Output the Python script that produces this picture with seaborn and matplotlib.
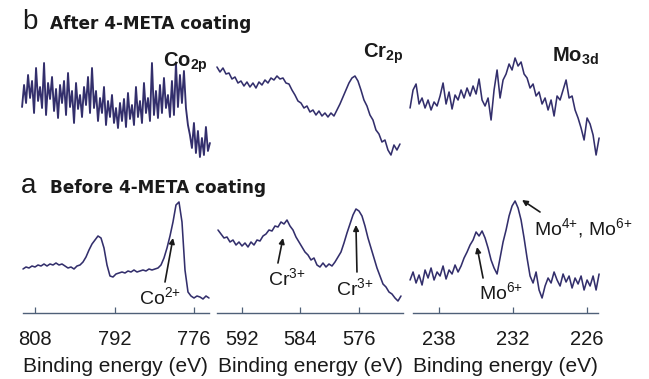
import numpy as np
import pandas as pd
import matplotlib
matplotlib.use("Agg")
import matplotlib.pyplot as plt
import seaborn as sns

# ---------------- data (intensity in a.u., stacked with offset) ----------------
co_energy_range = (810.6, 772.8)
co_after = [206, 228, 210, 238, 215, 232, 200, 245, 212, 226,
            205, 250, 198, 230, 214, 236, 202, 224, 195, 228,
            210, 232, 198, 240, 206, 222, 190, 230, 204, 218,
            196, 226, 208, 236, 200, 245, 205, 222, 192, 215,
            200, 226, 188, 212, 196, 218, 190, 205, 185, 210,
            192, 214, 186, 220, 194, 208, 188, 226, 196, 212,
            190, 230, 200, 215, 192, 250, 198, 222, 195, 228,
            200, 235, 205, 218, 196, 232, 198, 250, 206, 238,
            210, 242, 205, 188, 178, 165, 190, 160, 182, 156,
            175, 158, 186, 162, 170]
co_before_range = (810.41, 772.99)
co_before = [44, 46, 45, 47, 46, 48, 47, 49, 47, 49,
             48, 50, 48, 49, 47, 45, 46, 44, 47, 48,
             51, 56, 63, 69, 73, 77, 75, 65, 48, 37,
             36, 39, 40, 41, 40, 42, 41, 43, 41, 42,
             43, 42, 44, 43, 44, 45, 48, 55, 65, 77,
             91, 108, 111, 91, 43, 21, 17, 15, 17, 16,
             14, 17, 15]

cr_after_range = (595.42, 570.39)
cr_after = [246, 241, 245, 239, 240, 234, 236, 230, 232, 227,
            231, 226, 230, 225, 231, 228, 233, 230, 235, 233,
            237, 234, 235, 230, 229, 223, 218, 212, 210, 205,
            207, 201, 203, 198, 202, 197, 200, 196, 200, 197,
            203, 209, 216, 223, 230, 235, 237, 232, 223, 213,
            207, 198, 193, 183, 179, 171, 173, 163, 158, 168,
            163, 169]
cr_before_range = (595.28, 570.25)
cr_before = [83, 79, 75, 76, 71, 73, 68, 71, 67, 70,
             66, 71, 68, 73, 72, 77, 79, 83, 82, 87,
             86, 91, 89, 93, 87, 83, 76, 71, 66, 61,
             58, 53, 55, 48, 46, 50, 46, 49, 47, 51,
             56, 61, 70, 80, 89, 98, 104, 102, 97, 87,
             75, 65, 55, 45, 37, 29, 26, 21, 19, 15,
             12, 17]

mo_range = (240.35, 225.02)
mo_after = [205, 223, 229, 209, 215, 205, 213, 203, 211, 207,
            217, 230, 209, 221, 204, 218, 213, 223, 215, 225,
            217, 227, 219, 234, 213, 207, 215, 193, 223, 243,
            215, 233, 239, 249, 243, 255, 247, 251, 239, 235,
            225, 229, 217, 221, 209, 215, 203, 213, 197, 217,
            213, 223, 233, 215, 217, 203, 195, 185, 173, 195,
            189, 178, 158, 175]
mo_before = [33, 41, 30, 38, 28, 43, 35, 45, 33, 41,
             37, 47, 34, 43, 39, 48, 41, 47, 55, 61,
             68, 73, 81, 77, 82, 75, 65, 53, 45, 39,
             55, 71, 83, 97, 107, 112, 105, 93, 75, 55,
             37, 30, 41, 23, 15, 27, 35, 30, 41, 33,
             27, 39, 31, 37, 25, 35, 29, 37, 23, 33,
             27, 37, 23, 39]

panel_ticks = [[808, 792, 776], [592, 584, 576], [238, 232, 226]]
panel_xlims = [(812.02, 771.78), (596.10, 569.29), (240.76, 224.54)]
panel_spine = [(810.4, 773.0), (595.4, 570.0), (240.1, 225.1)]
panel_labels = ["Co$_{\\mathbf{2p}}$", "Cr$_{\\mathbf{2p}}$", "Mo$_{\\mathbf{3d}}$"]

# ---------------- style ----------------
sns.set_theme(style="white")
plt.rcParams["font.family"] = ["Liberation Sans", "DejaVu Sans"]
plt.rcParams["mathtext.fontset"] = "custom"
plt.rcParams["mathtext.rm"] = "Liberation Sans"
plt.rcParams["mathtext.bf"] = "Liberation Sans:bold"
plt.rcParams["mathtext.it"] = "Liberation Sans:italic"

W, H = 649, 379
fig = plt.figure(figsize=(W / 100, H / 100), dpi=100)
fig.patch.set_facecolor("white")

line_color = "#332f6c"
txt_color = "#1a1a1a"

def frame(left_px, right_px):
    return [left_px / W, (H - 313) / H, (right_px - left_px) / W, 313 / H]

axes = [fig.add_axes(frame(15, 215)),
        fig.add_axes(frame(212, 408)),
        fig.add_axes(frame(405, 605))]

def spectrum(ax, erange, vals, lw=1.15):
    e = np.linspace(erange[0], erange[1], len(vals))
    df = pd.DataFrame({"energy": e, "intensity": vals})
    sns.lineplot(data=df, x="energy", y="intensity", ax=ax, color=line_color,
                 linewidth=lw, estimator=None, sort=False)

spectrum(axes[0], co_energy_range, co_after, lw=1.35)
spectrum(axes[0], co_before_range, co_before)
spectrum(axes[1], cr_after_range, cr_after)
spectrum(axes[1], cr_before_range, cr_before)
spectrum(axes[2], mo_range, mo_after)
spectrum(axes[2], mo_range, mo_before)

for i, ax in enumerate(axes):
    ax.set_facecolor("none")
    ax.set_xlim(*panel_xlims[i])
    ax.set_ylim(0, 313)
    for s in ["left", "right", "top"]:
        ax.spines[s].set_visible(False)
    ax.spines["bottom"].set_bounds(*panel_spine[i])
    ax.spines["bottom"].set_color("#4f6078")
    ax.spines["bottom"].set_linewidth(1.0)
    ax.set_yticks([])
    ax.set_ylabel("")
    ax.set_xticks(panel_ticks[i])
    ax.set_xticklabels([str(t) for t in panel_ticks[i]])
    ax.tick_params(axis="x", bottom=True, direction="in", length=4, width=0.9,
                   colors="#4f6078", labelcolor=txt_color, labelsize=14.5, pad=12)
    ax.set_xlabel("Binding energy (eV)", fontsize=15, color=txt_color, labelpad=6)

# spectrum labels
axes[0].text(777.8, 250, panel_labels[0], ha="center", va="center",
             fontsize=14.5, fontweight="bold", color=txt_color)
axes[1].text(572.71, 259, panel_labels[1], ha="center", va="center",
             fontsize=14.5, fontweight="bold", color=txt_color)
axes[2].text(226.97, 257, panel_labels[2], ha="center", va="center",
             fontsize=14.5, fontweight="bold", color=txt_color)

arrow = dict(arrowstyle="-|>", color="#1a1a1a", lw=1.2, mutation_scale=8,
             shrinkA=0, shrinkB=0)

def note(ax, text, txy, a_from, a_to, fs=14):
    ax.text(txy[0], txy[1], text, ha="center", va="center", fontsize=fs,
            color=txt_color)
    ax.annotate("", xy=a_to, xytext=a_from, arrowprops=arrow)

note(axes[0], "Co$^{2{+}}$", (782.85, 16), (781.84, 31), (780.23, 75))
note(axes[1], "Cr$^{3{+}}$", (585.84, 35), (587.08, 50), (586.39, 75))
note(axes[1], "Cr$^{3{+}}$", (576.54, 25), (576.27, 41), (576.41, 88))
note(axes[2], "Mo$^{6{+}}$", (232.97, 21), (234.43, 35), (234.92, 66))
note(axes[2], "Mo$^{4{+}}$, Mo$^{6{+}}$", (226.32, 85), (229.81, 101), (231.27, 113), fs=14)

# panel titles
fig.text(22 / W, 1 - 22 / H, "b", fontsize=20, color=txt_color, va="center", ha="left")
fig.text(50 / W, 1 - 24 / H, "After 4-META coating", fontsize=12.2,
         fontweight="bold", color=txt_color, va="center", ha="left",
         family=["DejaVu Sans"])
fig.text(21 / W, 1 - 186 / H, "a", fontsize=20, color=txt_color, va="center", ha="left")
fig.text(50 / W, 1 - 188 / H, "Before 4-META coating", fontsize=12.2,
         fontweight="bold", color=txt_color, va="center", ha="left",
         family=["DejaVu Sans"])

fig.savefig("out.png", dpi=100, facecolor="white")
